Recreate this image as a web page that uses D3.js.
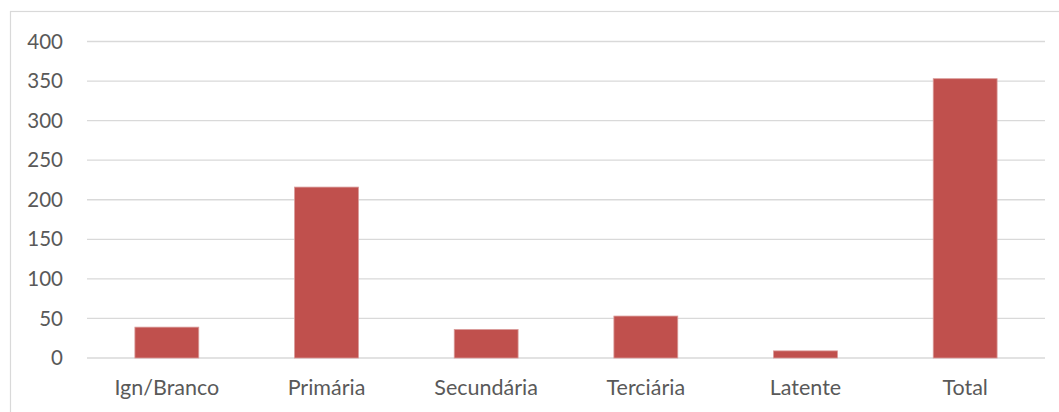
<!DOCTYPE html>
<html>
<head>
<meta charset="utf-8">
<style>
  body { margin: 0; background: #fff; }
  svg { display: block; font-family: Lato, "Open Sans", sans-serif; }
</style>
</head>
<body>
<svg width="1059" height="412"></svg>
<script src="https://cdn.jsdelivr.net/npm/d3@7"></script>
<script>
var categories = ["Ign/Branco", "Primária", "Secundária", "Terciária", "Latente", "Total"];
var values = [39, 216, 36, 53, 9, 353];
var yTicks = [0, 50, 100, 150, 200, 250, 300, 350, 400];

var svg = d3.select("svg");

// chart frame (right and bottom edges fall outside the picture)
svg.append("rect")
    .attr("x", 10.5).attr("y", 11.5)
    .attr("width", 1060).attr("height", 420)
    .attr("fill", "none")
    .attr("stroke", "#d9d9d9")
    .attr("stroke-width", 1.2);

var x = d3.scaleBand()
    .domain(categories)
    .range([87, 1045])
    .paddingInner(0.6)
    .paddingOuter(0.3);

var y = d3.scaleLinear()
    .domain([0, 400])
    .range([358, 41.5]);

// gridlines
svg.append("g")
    .selectAll("line")
    .data(yTicks)
    .join("line")
    .attr("x1", 87).attr("x2", 1045)
    .attr("y1", d => y(d)).attr("y2", d => y(d))
    .attr("stroke", "#d9d9d9")
    .attr("stroke-width", 1.3);

// y axis labels
var yAxis = svg.append("g")
    .attr("transform", "translate(63,0)")
    .call(d3.axisLeft(y).tickValues(yTicks).tickSize(0).tickPadding(0));
yAxis.select(".domain").remove();
yAxis.selectAll("text")
    .attr("fill", "#595959")
    .attr("font-size", 20.5)
    .attr("font-family", "Lato, 'Open Sans', sans-serif");

// bars
svg.append("g")
    .selectAll("rect")
    .data(values)
    .join("rect")
    .attr("x", (d, i) => x(categories[i]))
    .attr("y", d => y(d))
    .attr("width", x.bandwidth())
    .attr("height", d => y(0) - y(d))
    .attr("fill", "#c0504d")
    .attr("stroke", "#d99a98")
    .attr("stroke-width", 0.8);

// x axis labels
var xAxis = svg.append("g")
    .attr("transform", "translate(0,358)")
    .call(d3.axisBottom(x).tickSize(0).tickPadding(22));
xAxis.select(".domain").remove();
xAxis.selectAll("text")
    .attr("fill", "#595959")
    .attr("font-size", 21.5)
    .attr("font-family", "Lato, 'Open Sans', sans-serif");
</script>
</body>
</html>
